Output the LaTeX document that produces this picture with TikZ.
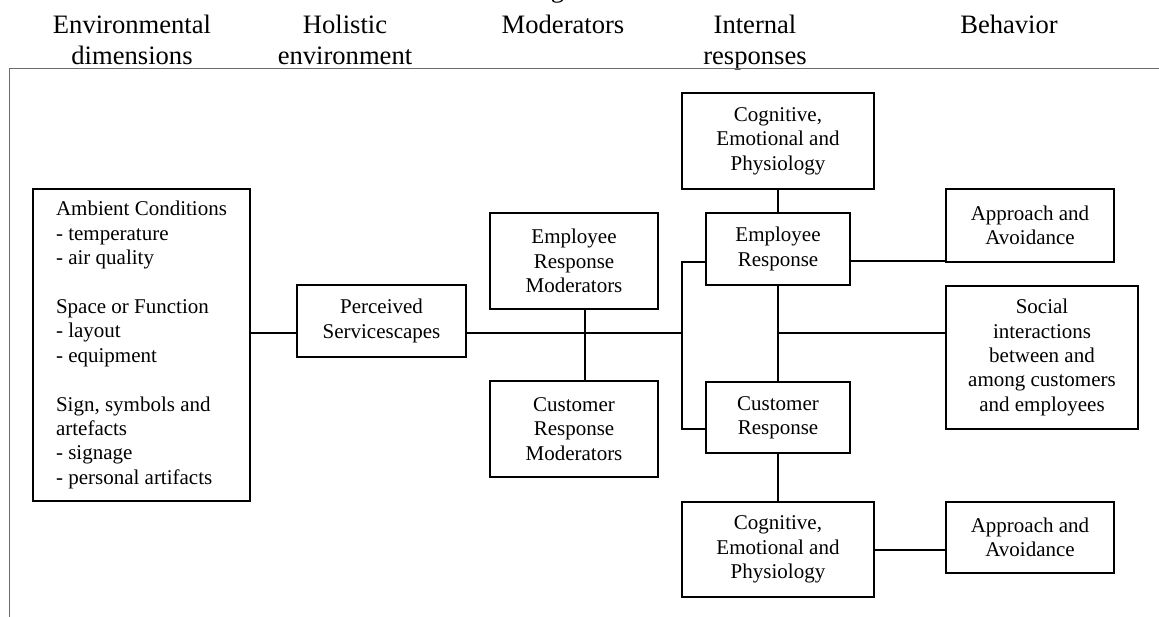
\documentclass[tikz,border=0pt]{standalone}
\usepackage{fontspec}
\setmainfont{Liberation Serif}
\definecolor{rulegray}{rgb}{0.42, 0.42, 0.42}

\begin{document}
\begin{tikzpicture}[x=1pt,y=1pt,yscale=-1,xscale=1,
		box/.style={draw, line width=2pt, inner sep=0pt, align=center, font=\fontsize{21}{24.4}\selectfont},
		head/.style={anchor=north, inner sep=0pt, align=center, font=\fontsize{26.6}{31}\selectfont},
		link/.style={line width=2pt}]
		% Set diagram to 1159 x 617
		\useasboundingbox (0,0) rectangle (1159,617);

		% Title, mostly cut off at the top
		\node (title) [anchor=base, inner sep=0pt, font=\fontsize{26.6}{31}\selectfont] at (546,-2) {in service organizations};

		% Column headings
		\node (hEnv) [head] at (132,15) {Environmental\\dimensions};
		\node (hHol) [head] at (345,15) {Holistic\\environment};
		\node (hMod) [head] at (563,15) {Moderators};
		\node (hInt) [head] at (755,15) {Internal\\responses};
		\node (hBeh) [head] at (1009,15) {Behavior};

		% Grey frame lines below the headings
		\coordinate (frameTL) at (9,69);
		\draw[rulegray, line width=1pt] (frameTL) -- (1159,69);
		\draw[rulegray, line width=1pt] (frameTL) -- (9,617);

		% Environmental dimensions box
		\node (env) [box, align=left, minimum width=217pt, minimum height=312pt] at (141.5,345)
		{Ambient Conditions\\- temperature\\- air quality\\[24.4pt]Space or Function\\- layout\\- equipment\\[24.4pt]Sign, symbols and\\artefacts\\- signage\\- personal artifacts};

		% Perceived servicescapes
		\node (per) [box, minimum width=169pt, minimum height=72pt] at (381.5,321) {Perceived\\Servicescapes};

		% Moderators
		\node (erm) [box, minimum width=168pt, minimum height=96pt] at (574,261) {Employee\\Response\\Moderators};
		\node (crm) [box, minimum width=168pt, minimum height=96pt] at (574,429) {Customer\\Response\\Moderators};

		% Internal responses
		\node (cep1) [box, minimum width=192pt, minimum height=96pt] at (778,141) {Cognitive,\\Emotional and\\Physiology};
		\node (er) [box, minimum width=144pt, minimum height=72pt] at (778,249) {Employee\\Response};
		\node (cr) [box, minimum width=144pt, minimum height=71pt] at (778,417.5) {Customer\\Response};
		\node (cep2) [box, minimum width=192pt, minimum height=95pt] at (778,549.5) {Cognitive,\\Emotional and\\Physiology};

		% Behavior
		\node (app1) [box, minimum width=168pt, minimum height=73pt] at (1030,225.5) {Approach and\\Avoidance};
		\node (soc) [box, minimum width=192pt, minimum height=143pt] at (1042,357.5) {Social\\interactions\\between and\\among customers\\and employees};
		\node (app2) [box, minimum width=168pt, minimum height=71pt] at (1030,537.5) {Approach and\\Avoidance};

		% Main line and the bracket joining both responses
		\coordinate (main) at (0,333);
		\coordinate (jTop) at (682,262);
		\coordinate (jBot) at (682,429);
		\draw[link] (env.east |- main) -- (per.west |- main);
		\draw[link] (per.east |- main) -- (jTop |- main);
		\draw[link] (er.west |- jTop) -- (jTop) -- (jBot) -- (cr.west |- jBot);

		% Moderators joined to each other
		\draw[link] ([xshift=11pt]erm.south) -- ([xshift=11pt]crm.north);

		% Response chain
		\draw[link] (cep1.south) -- (er.north);
		\draw[link] (er.south) -- (cr.north);
		\draw[link] (cr.south) -- (cep2.north);

		% Links to behavior
		\coordinate (erOut) at ([yshift=12pt]er.east);
		\draw[link] (erOut) -- (erOut -| app1.west);
		\draw[link] (er.south |- main) -- (soc.west |- main);
		\draw[link] (cep2.east) -- (cep2.east -| app2.west);
	\end{tikzpicture}
\end{document}
